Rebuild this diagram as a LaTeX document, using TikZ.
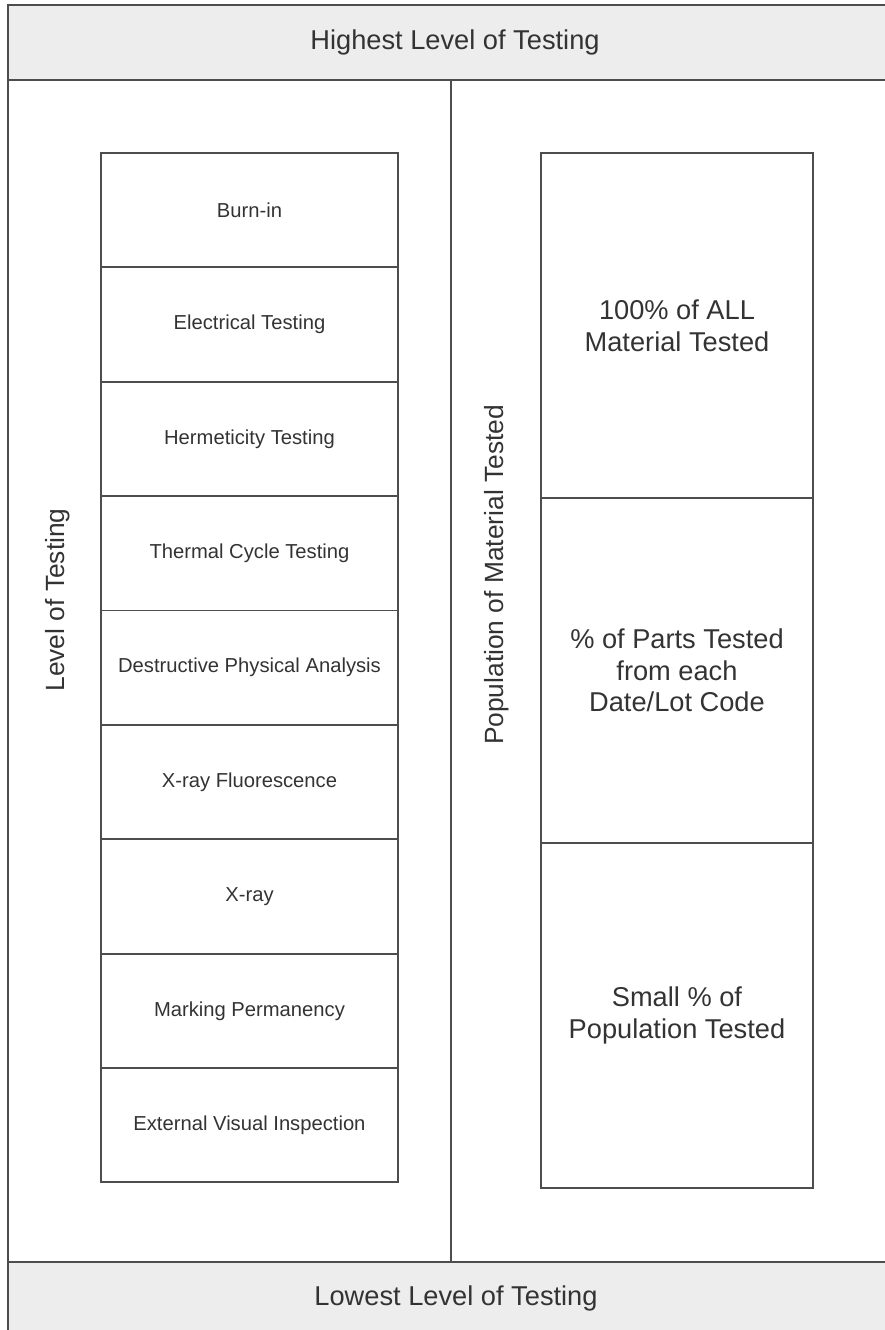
\documentclass[tikz,border=0pt]{standalone}
\usepackage{fontspec}
\setmainfont{Liberation Sans}
\usetikzlibrary{positioning}

\definecolor{bandgray}{HTML}{EDEDED}
\definecolor{linegray}{HTML}{4D4D4D}
\definecolor{textgray}{HTML}{333333}

\tikzset{
  testbox/.style={draw=linegray, line width=1.1pt, minimum width=5.94cm, minimum height=2.288cm,
    inner sep=0pt, outer sep=0pt, text=textgray, font=\fontsize{11.5}{13}\selectfont},
  popbox/.style={draw=linegray, line width=1.1pt, minimum width=5.44cm, minimum height=6.9cm,
    inner sep=0pt, outer sep=0pt, align=center, text=textgray, font=\fontsize{15.5}{18}\selectfont},
  bandtext/.style={text=textgray, font=\fontsize{15.5}{18}\selectfont},
  sidelabel/.style={rotate=90, text=textgray, font=\fontsize{15}{18}\selectfont}
}

\begin{document}
\begin{tikzpicture}[x=0.02cm, y=-0.02cm, line width=1.1pt]
\useasboundingbox (0,0) rectangle (885,1330);
% grey bands
\fill[bandgray] (8,5) rectangle (885,80);
\fill[bandgray] (8,1262) rectangle (885,1330);

% frame lines
\draw[linegray] (885,5) -- (8,5) -- (8,1330);
\draw[linegray] (8,80) -- (885,80);
\draw[linegray] (8,1262) -- (885,1262);
\draw[linegray] (451,80) -- (451,1262);

% band texts
\node[bandtext] (highest) at (455,42) {Highest Level of Testing};
\node[bandtext] (lowest) at (456,1298) {Lowest Level of Testing};

% side labels
\node[sidelabel] (levellbl) at (58,600) {Level of Testing};
\node[sidelabel] (poplbl) at (497,575) {Population of Material Tested};

% left column
\node[testbox, anchor=north west] (burnin) at (101,153) {Burn-in};
\node[testbox, below=0pt of burnin] (elec) {Electrical Testing};
\node[testbox, below=0pt of elec] (herm) {Hermeticity Testing};
\node[testbox, below=0pt of herm] (thermal) {Thermal Cycle Testing};
\node[testbox, below=0pt of thermal] (dpa) {Destructive Physical Analysis};
\node[testbox, below=0pt of dpa] (xrf) {X-ray Fluorescence};
\node[testbox, below=0pt of xrf] (xray) {X-ray};
\node[testbox, below=0pt of xray] (marking) {Marking Permanency};
\node[testbox, below=0pt of marking] (visual) {External Visual Inspection};

% right column
\node[popbox, anchor=north west] (allmat) at (541,153) {100\% of ALL\\Material Tested};
\node[popbox, below=0pt of allmat] (lotpct) {\% of Parts Tested\\from each\\Date/Lot Code};
\node[popbox, below=0pt of lotpct] (smallpct) {Small \% of\\Population Tested};
\end{tikzpicture}
\end{document}
